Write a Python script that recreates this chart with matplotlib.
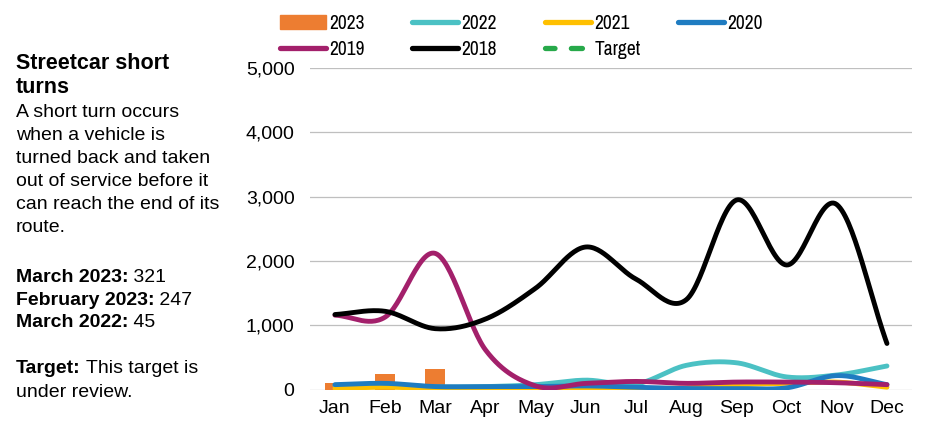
import numpy as np
import matplotlib.pyplot as plt
from matplotlib import font_manager
from matplotlib.lines import Line2D
from matplotlib.patches import Patch
from matplotlib.ticker import FuncFormatter

plt.rcParams['font.family'] = ['Liberation Sans', 'DejaVu Sans']

months = ['Jan', 'Feb', 'Mar', 'Apr', 'May', 'Jun', 'Jul', 'Aug', 'Sep', 'Oct', 'Nov', 'Dec']
y2023 = [110, 247, 321]
y2022 = [70, 80, 45, 50, 80, 150, 90, 380, 420, 200, 230, 370]
y2021 = [20, 40, 20, 20, 10, 20, 20, 30, 80, 100, 120, 40]
y2020 = [80, 100, 50, 50, 50, 60, 40, 20, 20, 30, 220, 80]
y2019 = [1160, 1130, 2120, 620, 60, 100, 130, 100, 120, 120, 110, 80]
y2018 = [1170, 1220, 950, 1100, 1580, 2220, 1720, 1400, 2950, 1940, 2880, 720]

colors = {'2023': '#ED7D31', '2022': '#4BC1C4', '2021': '#FFC000',
          '2020': '#1F7CC1', '2019': '#A3206B', '2018': '#000000', 'Target': '#27A94A'}


def smooth(y, n=30):
    # catmull-rom style smoothing, like the "smoothed line" option in Excel
    y = np.asarray(y, dtype=float)
    x = np.arange(len(y))
    p = np.concatenate([[2 * y[0] - y[1]], y, [2 * y[-1] - y[-2]]])
    xs, ys = [], []
    for i in range(len(y) - 1):
        p0, p1, p2, p3 = p[i], p[i + 1], p[i + 2], p[i + 3]
        t = np.linspace(0, 1, n, endpoint=False)
        yy = 0.5 * (2 * p1 + (-p0 + p2) * t + (2 * p0 - 5 * p1 + 4 * p2 - p3) * t ** 2
                    + (-p0 + 3 * p1 - 3 * p2 + p3) * t ** 3)
        xs.append(x[i] + t)
        ys.append(yy)
    xs.append([x[-1]])
    ys.append([y[-1]])
    return np.concatenate(xs), np.concatenate(ys)


W, H = 925, 426
fig = plt.figure(figsize=(W / 100, H / 100), dpi=100)
ax = fig.add_axes([0.335, 0.085, 0.651, 0.755])

x = np.arange(len(months))
ax.bar(x[:len(y2023)], y2023, width=0.4, color=colors['2023'], zorder=2)
for name, vals in [('2022', y2022), ('2021', y2021), ('2020', y2020), ('2019', y2019), ('2018', y2018)]:
    sx, sy = smooth(vals)
    ax.plot(sx, sy, color=colors[name], lw=3.5, solid_capstyle='round', zorder=3)

ax.set_xlim(-0.5, 11.5)
ax.set_ylim(0, 5000)
ax.set_yticks(range(0, 5001, 1000))
ax.yaxis.set_major_formatter(FuncFormatter(lambda v, p: f'{int(v):,}'))
ax.set_xticks(x)
ax.set_xticklabels(months)
ax.tick_params(length=0, labelsize=14, colors='black')
ax.tick_params(axis='y', pad=11)
ax.tick_params(axis='x', pad=7)
ax.grid(axis='y', color='#BFBFBF', lw=0.9)
ax.set_axisbelow(True)
for s in ax.spines.values():
    s.set_visible(False)


def lh(name):
    if name == '2023':
        return Patch(color=colors[name])
    if name == 'Target':
        return Line2D([], [], color=colors[name], lw=3.8, ls=(0.3, (2.1, 3.1)), dash_capstyle='round')
    return Line2D([], [], color=colors[name], lw=3.8, solid_capstyle='round')


# the legend uses a narrow face in the original; use one if it is installed
narrow = sorted({f.name for f in font_manager.fontManager.ttflist if 'Narrow' in f.name})
if narrow:
    leg_prop = {'family': [narrow[0], 'Liberation Sans'], 'size': 14}
else:
    leg_prop = {'family': ['Liberation Sans'], 'size': 13}

# legend laid out in equal-width columns like the original
legend_cols = [['2023', '2019'], ['2022', '2018'], ['2021', 'Target'], ['2020']]
col_x = [280, 412, 545, 678]
for names, cx in zip(legend_cols, col_x):
    fig.legend([lh(n) for n in names], names, loc='upper left',
               bbox_to_anchor=(cx / W, 1 - 14 / H), frameon=False, prop=leg_prop,
               handlelength=2.35 * 14 / leg_prop['size'], handleheight=0.75,
               handletextpad=0.2, labelspacing=0.33 * 14 / leg_prop['size'] + 0.05,
               borderpad=0, borderaxespad=0)


def px_text(xp, baseline, s, **kw):
    return fig.text(xp / W, 1 - baseline / H, s, va='baseline', **kw)


for i, line in enumerate(['Streetcar short', 'turns']):
    px_text(16, 69 + 24 * i, line, fontsize=15.5, fontweight='bold')

body = ['A short turn occurs', 'when a vehicle is', 'turned back and taken',
        'out of service before it', 'can reach the end of its', 'route.']
for i, line in enumerate(body):
    px_text(16, 117 + 23 * i, line, fontsize=14)

fig.canvas.draw()
r = fig.canvas.get_renderer()
rows = [('March 2023:', ' 321', 282), ('February 2023:', ' 247', 305),
        ('March 2022:', ' 45', 327), ('Target:', ' This target is', 373)]
for bold, val, base in rows:
    t = px_text(16, base, bold, fontsize=14, fontweight='bold')
    bb = t.get_window_extent(renderer=r)
    px_text(bb.x1, base, val, fontsize=14)
px_text(16, 397, 'under review.', fontsize=14)

fig.savefig('out.png', dpi=100)
